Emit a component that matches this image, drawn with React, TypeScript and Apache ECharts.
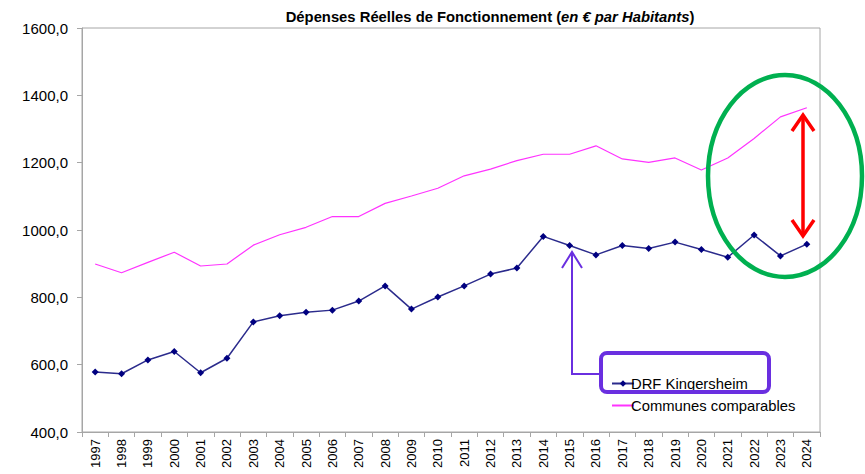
import React, { useEffect, useRef } from "react";
import * as echarts from "echarts";

const years = [
  "1997", "1998", "1999", "2000", "2001", "2002", "2003", "2004", "2005", "2006",
  "2007", "2008", "2009", "2010", "2011", "2012", "2013", "2014", "2015", "2016",
  "2017", "2018", "2019", "2020", "2021", "2022", "2023", "2024",
];

const drfKingersheim = [
  578, 573, 614, 639, 576, 619, 727, 745, 756, 762,
  789, 834, 765, 801, 834, 869, 887, 981, 954, 926,
  954, 945, 964, 942, 919, 985, 923, 958,
];

const communesComparables = [
  899, 873, 904, 934, 893, 899, 955, 986, 1008, 1040,
  1040, 1079, 1101, 1124, 1161, 1181, 1206, 1225, 1225, 1250,
  1211, 1201, 1214, 1178, 1214, 1272, 1336, 1363,
];

const yTicks = { min: 400, max: 1600, interval: 200 };

export default function App() {
  const ref = useRef<HTMLDivElement>(null);
  useEffect(() => {
    if (!ref.current) return;
    const chart = echarts.init(ref.current, null, { renderer: "svg" });
    const font = "Liberation Sans, Arial, sans-serif";
    const purple = "#6a2fe0";
    chart.setOption({
      animation: false,
      textStyle: { fontFamily: font },
      title: {
        text: "{b|Dépenses Réelles de Fonctionnement (}{i|en € par Habitants}{b|)}",
        left: 485,
        top: 4,
        textAlign: "center",
        textStyle: {
          rich: {
            b: { fontFamily: font, fontSize: 14.8, fontWeight: "bold", color: "#000" },
            i: { fontFamily: font, fontSize: 14.8, fontWeight: "bold", fontStyle: "italic", color: "#000" },
          },
        },
      },
      grid: {
        left: 82,
        right: 45,
        top: 28,
        bottom: 42,
        show: true,
        borderColor: "#a6a6a6",
        borderWidth: 1,
        backgroundColor: "#fff",
      },
      legend: {
        orient: "vertical",
        left: 606,
        top: 371,
        itemWidth: 22,
        itemHeight: 8,
        itemGap: 7,
        textStyle: { fontFamily: font, fontSize: 14.8, color: "#000", padding: [0, 0, 0, -8] },
        data: [
          { name: "DRF Kingersheim" },
          { name: "Communes comparables", itemStyle: { opacity: 0 } },
        ],
      },
      xAxis: {
        type: "category",
        data: years,
        boundaryGap: true,
        axisLine: { lineStyle: { color: "#a6a6a6", width: 1 } },
        axisTick: { show: true, length: 5, inside: false, alignWithLabel: false, lineStyle: { color: "#a6a6a6" } },
        axisLabel: { rotate: 90, fontSize: 13, color: "#000", fontFamily: font, margin: 7, interval: 0 },
        splitLine: { show: false },
      },
      yAxis: {
        type: "value",
        min: yTicks.min,
        max: yTicks.max,
        interval: yTicks.interval,
        axisLine: { show: true, lineStyle: { color: "#a6a6a6", width: 1 } },
        axisTick: { show: true, length: 5, lineStyle: { color: "#a6a6a6" } },
        axisLabel: {
          fontSize: 15,
          color: "#000",
          fontFamily: font,
          margin: 14,
          formatter: (v: number) => v.toFixed(1).replace(".", ","),
        },
        splitLine: { show: false },
      },
      series: [
        {
          name: "DRF Kingersheim",
          type: "line",
          data: drfKingersheim,
          color: "#000080",
          lineStyle: { color: "#2b2b8c", width: 1.5 },
          itemStyle: { color: "#000080" },
          symbol: "diamond",
          symbolSize: 7,
          showSymbol: true,
          z: 3,
        },
        {
          name: "Communes comparables",
          type: "line",
          data: communesComparables,
          color: "#ff33ff",
          itemStyle: { color: "#ff33ff" },
          lineStyle: { color: "#ff33ff", width: 1.2 },
          symbol: "none",
          showSymbol: false,
          z: 2,
        },
      ],
      graphic: [
        {
          type: "ellipse",
          shape: { cx: 785, cy: 176, rx: 77, ry: 101 },
          style: { fill: "none", stroke: "#00b050", lineWidth: 4.5 },
          z: 100,
        },
        {
          type: "line",
          shape: { x1: 803, y1: 116, x2: 803, y2: 235 },
          style: { stroke: "#ff0000", lineWidth: 3.5 },
          z: 101,
        },
        {
          type: "polyline",
          shape: { points: [[792, 131], [803, 115], [814, 131]] },
          style: { fill: "none", stroke: "#ff0000", lineWidth: 3.5 },
          z: 101,
        },
        {
          type: "polyline",
          shape: { points: [[792, 220], [803, 236], [814, 220]] },
          style: { fill: "none", stroke: "#ff0000", lineWidth: 3.5 },
          z: 101,
        },
        {
          type: "rect",
          shape: { x: 601, y: 353, width: 168, height: 39, r: 6 },
          style: { fill: "none", stroke: purple, lineWidth: 4 },
          z: 101,
        },
        {
          type: "polyline",
          shape: { points: [[601, 374], [572, 374], [572, 252]] },
          style: { fill: "none", stroke: purple, lineWidth: 2 },
          z: 101,
        },
        {
          type: "polyline",
          shape: { points: [[562, 268], [572, 252], [582, 268]] },
          style: { fill: "none", stroke: purple, lineWidth: 2 },
          z: 101,
        },
      ],
    });
    return () => chart.dispose();
  }, []);
  return <div ref={ref} style={{ width: 865, height: 474, position: "absolute", left: 0, top: 0 }} />;
}
